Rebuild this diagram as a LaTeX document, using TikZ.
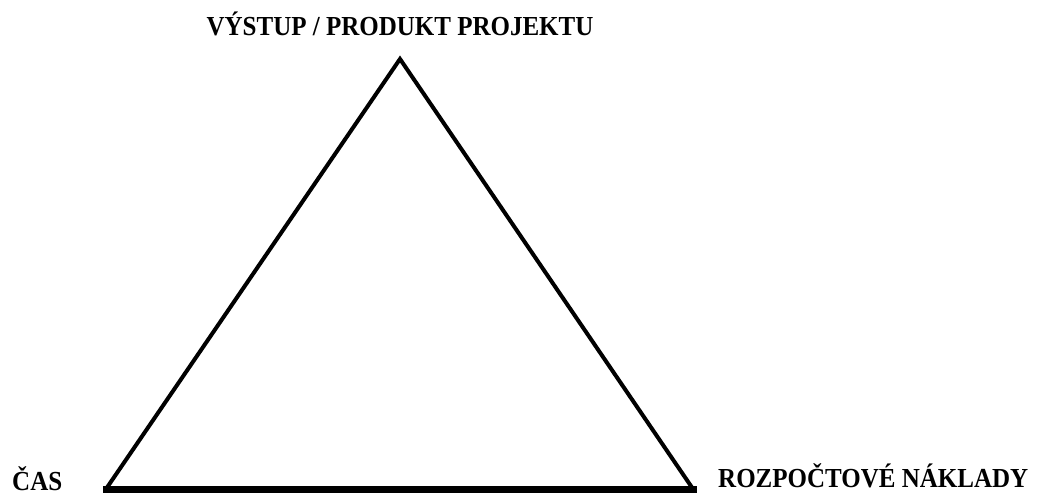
\documentclass[tikz,border=0pt]{standalone}
\usepackage{fontspec}
\setmainfont{Liberation Serif}
\usetikzlibrary{calc}

\newcommand{\tall}[1]{\scalebox{1}[1.1]{#1}}

\tikzset{
  corner/.style={font=\bfseries\fontsize{25}{30}\selectfont, inner sep=0pt},
  side/.style={line width=4pt, line join=miter},
  base/.style={line width=7pt, line cap=rect}
}

\begin{document}
\begin{tikzpicture}[x=1pt,y=-1pt]
  \useasboundingbox (0,0) rectangle (1043,495);
  % vertices of the triangle
  \coordinate (vystup) at (400,59);
  \coordinate (cas) at (106,489);
  \coordinate (naklady) at (693,489);
  \draw[side] (cas) -- (vystup) -- (naklady);
  \draw[base] (cas) -- (naklady);
  % labels
  \node[corner, anchor=base] (tvystup) at (400,36) {\tall{VÝSTUP / PRODUKT PROJEKTU}};
  \node[corner, anchor=base west] (tcas) at (12,490) {\tall{ČAS}};
  \node[corner, anchor=base west] (tnaklady) at (718,487) {\tall{ROZPOČTOVÉ NÁKLADY}};
\end{tikzpicture}
\end{document}
